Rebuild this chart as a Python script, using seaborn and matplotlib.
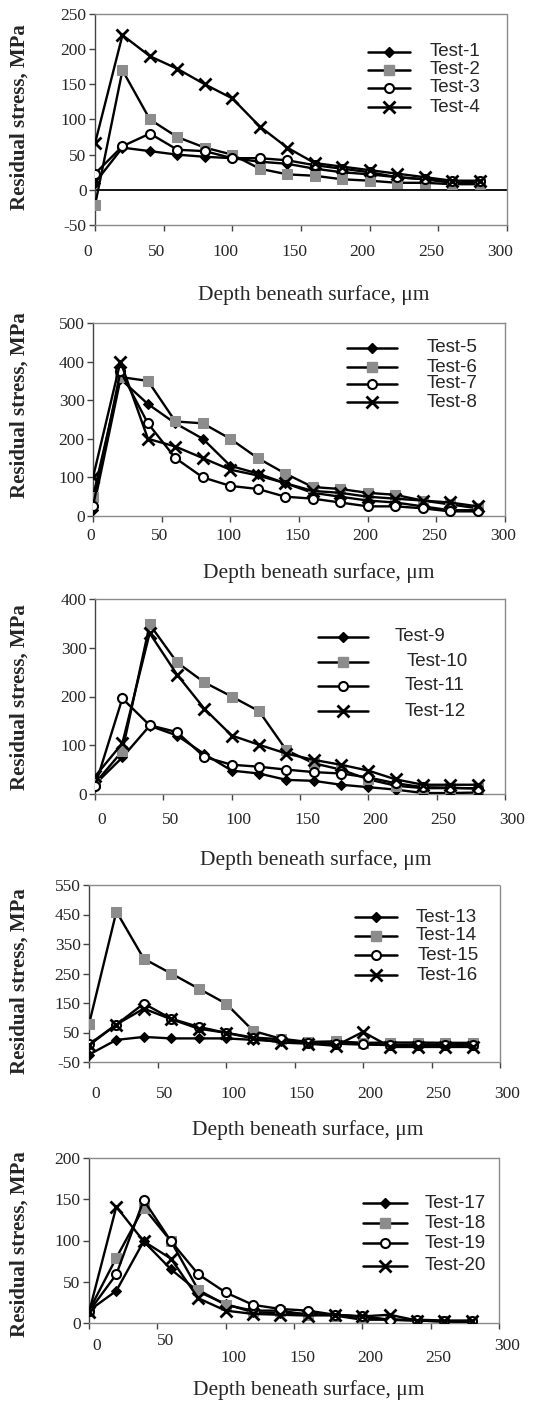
import matplotlib
matplotlib.use("Agg")
import matplotlib.pyplot as plt
import matplotlib.transforms as mtrans
from matplotlib.lines import Line2D
import seaborn as sns
import pandas as pd

# ---------------- data ----------------
depth = [0, 20, 40, 60, 80, 100, 120, 140, 160, 180, 200, 220, 240, 260, 280]

test_1 = [10, 60, 55, 50, 47, 45, 40, 37, 30, 25, 22, 18, 15, 10, 10]
test_2 = [-22, 170, 100, 75, 60, 50, 30, 22, 20, 15, 13, 10, 10, 8, 8]
test_3 = [23, 62, 80, 57, 55, 45, 45, 42, 35, 30, 25, 18, 15, 12, 12]
test_4 = [66, 220, 190, 172, 150, 130, 90, 60, 38, 33, 28, 23, 18, 13, 13]

test_5 = [15, 355, 290, 240, 200, 130, 110, 85, 60, 50, 40, 35, 25, 15, 15]
test_6 = [50, 360, 350, 245, 240, 200, 150, 110, 75, 70, 60, 55, 40, 30, 20]
test_7 = [25, 375, 240, 150, 100, 78, 70, 50, 45, 35, 25, 25, 20, 12, 12]
test_8 = [100, 400, 200, 180, 150, 120, 105, 85, 65, 60, 50, 45, 40, 35, 25]

test_9 = [20, 75, 140, 120, 82, 48, 42, 29, 27, 19, 14, 9, 2, 2, 3]
test_10 = [22, 88, 348, 270, 229, 200, 170, 90, 63, 50, 30, 17, 12, 12, 12]
test_11 = [16, 196, 141, 127, 76, 60, 56, 50, 45, 42, 34, 22, 14, 13, 11]
test_12 = [36, 104, 330, 245, 175, 120, 101, 83, 70, 60, 48, 30, 19, 19, 19]

test_13 = [-25, 25, 35, 30, 30, 30, 25, 20, 15, 12, 10, 8, 8, 8, 8]
test_14 = [78, 460, 300, 250, 199, 148, 55, 29, 18, 20, 15, 16, 16, 15, 15]
test_15 = [10, 77, 148, 97, 69, 49, 33, 27, 15, 12, 10, 7, 9, 8, 8]
test_16 = [7, 77, 131, 95, 63, 49, 30, 16, 12, 5, 52, 1, 1, 1, 1]

test_17 = [15, 39, 99, 65, 38, 23, 13, 12, 11, 10, 7, 4, 3, 2, 2]
test_18 = [15, 79, 140, 99, 40, 22, 15, 15, 10, 9, 4, 4, 3, 2, 1]
test_19 = [14, 59, 149, 99, 59, 37, 22, 17, 15, 10, 8, 4, 4, 3, 3]
test_20 = [13, 141, 99, 78, 30, 15, 11, 10, 9, 10, 8, 10, 3, 2, 2]

panel_series = [
    {"Test-1": test_1, "Test-2": test_2, "Test-3": test_3, "Test-4": test_4},
    {"Test-5": test_5, "Test-6": test_6, "Test-7": test_7, "Test-8": test_8},
    {"Test-9": test_9, "Test-10": test_10, "Test-11": test_11, "Test-12": test_12},
    {"Test-13": test_13, "Test-14": test_14, "Test-15": test_15, "Test-16": test_16},
    {"Test-17": test_17, "Test-18": test_18, "Test-19": test_19, "Test-20": test_20},
]
y_ticks = [
    [-50, 0, 50, 100, 150, 200, 250],
    [0, 100, 200, 300, 400, 500],
    [0, 100, 200, 300, 400],
    [-50, 50, 150, 250, 350, 450, 550],
    [0, 50, 100, 150, 200],
]
x_ticks = [0, 50, 100, 150, 200, 250, 300]

x_label = "Depth beneath surface, \u03bcm"
y_label = "Residual stress, MPa"

# ---------------- style ----------------
sns.set_style("white")
plt.rcParams["font.family"] = ["Liberation Serif", "DejaVu Serif"]
plt.rcParams["axes.unicode_minus"] = False

W, H = 555, 1410
fig = plt.figure(figsize=(W / 100, H / 100), dpi=100)

# axes boxes in pixels: left, right, top, bottom
boxes = [
    (95, 507, 14, 225),
    (93, 505, 323, 516),
    (95, 505, 599, 794),
    (89, 500, 885, 1062),
    (89, 499, 1158, 1323),
]
# x tick label shift (px) and pad
xtick_shift = [(-7, 0), (-2, 0), (7, 0), (7, 0), (8, 0)]
xtick_pad = [10, 5, 9, 13, 14]
# per-label vertical jitter for the last panel (px, positive = down)
p5_label_dy = [-10, -15, 2, 2, 2, 2, -10]
# xlabel centres (px)
xlabel_pos = [(314, 295), (319, 573), (316, 860), (308, 1130), (309, 1390)]
ylabel_pos = [(20, 117), (20, 405), (20, 697), (20, 981), (20, 1244)]
# legend: line x0, x1, text x, rows y
legend_geo = [
    (368, 410, 430, [52, 70, 88, 107]),
    (347, 397, 427, [348, 367, 384, 402]),
    (318, 368, 395, [637, 662, 686, 711]),
    (355, 397, 416, [917, 936, 955, 975]),
    (363, 407, 425, [1203, 1223, 1243, 1266]),
]
legend_text_dx = [
    [0, 0, 0, 0],
    [0, 0, 0, 0],
    [0, 12, 10, 10],
    [0, 0, 2, 1],
    [0, 0, 0, 0],
]

marker_styles = [
    dict(marker="D", markersize=5, markerfacecolor="black", markeredgecolor="black"),
    dict(marker="s", markersize=6.5, markerfacecolor="#8c8c8c", markeredgecolor="#8c8c8c"),
    dict(marker="o", markersize=6.5, markerfacecolor="white", markeredgecolor="black", markeredgewidth=1.5),
    dict(marker="x", markersize=9, markeredgecolor="black", markeredgewidth=2),
]

def fx(px):
    return px / W

def fy(py):
    return 1 - py / H

for i, series in enumerate(panel_series):
    l, r, t, b = boxes[i]
    ax = fig.add_axes([fx(l), fy(b), (r - l) / W, (b - t) / H])
    rows = []
    for name, vals in series.items():
        for d, v in zip(depth, vals):
            rows.append({"depth": d, "stress": v, "test": name})
    df = pd.DataFrame(rows)
    names = list(series.keys())
    for k, name in enumerate(names):
        sub = df[df["test"] == name]
        ms = marker_styles[k]
        sns.lineplot(data=sub, x="depth", y="stress", ax=ax, color="black",
                     linewidth=1.7, legend=False, zorder=3 + k,
                     **ms)
    if i == 0:
        ax.axhline(0, color="black", linewidth=1.3, zorder=2)
    yt = y_ticks[i]
    ax.set_xlim(0, 300)
    ax.set_ylim(yt[0], yt[-1])
    ax.set_yticks(yt)
    ax.set_xticks(x_ticks)
    ax.set_xlabel("")
    ax.set_ylabel("")
    for s in ["top", "right", "bottom", "left"]:
        ax.spines[s].set_color("#8a8a8a")
        ax.spines[s].set_linestyle((0, (1, 1)))
        ax.spines[s].set_linewidth(1.0)
    ax.spines["left"].set_color("#444444")
    ax.tick_params(axis="both", which="both", direction="out", length=4,
                   width=1, color="#444444", labelsize=12.5)
    ax.tick_params(axis="x", pad=xtick_pad[i], bottom=True)
    ax.tick_params(axis="y", pad=2, left=True)
    dx, dy = xtick_shift[i]
    for j, lab in enumerate(ax.get_xticklabels()):
        ddy = dy + (p5_label_dy[j] if i == 4 else 0)
        off = mtrans.ScaledTranslation(dx / 100, -ddy / 100, fig.dpi_scale_trans)
        lab.set_transform(lab.get_transform() + off)

    # axis titles
    fig.text(fx(xlabel_pos[i][0]), fy(xlabel_pos[i][1]), x_label,
             ha="center", va="center", fontsize=15.5)
    fig.text(fx(ylabel_pos[i][0]), fy(ylabel_pos[i][1]), y_label,
             ha="center", va="center", fontsize=15, fontweight="bold",
             rotation=90)

    # legend (drawn in figure coordinates)
    x0, x1, xt, ys = legend_geo[i]
    for k, name in enumerate(names):
        yy = fy(ys[k])
        ln = Line2D([fx(x0), fx((x0 + x1) / 2), fx(x1)], [yy, yy, yy],
                    transform=fig.transFigure, color="black", linewidth=1.8,
                    markevery=[1], **marker_styles[k])
        fig.add_artist(ln)
        fig.text(fx(xt + legend_text_dx[i][k]), yy, name, ha="left", va="center",
                 fontsize=13.5, family=["Liberation Sans", "DejaVu Sans"])

fig.savefig("out.png", dpi=100, facecolor="white")
